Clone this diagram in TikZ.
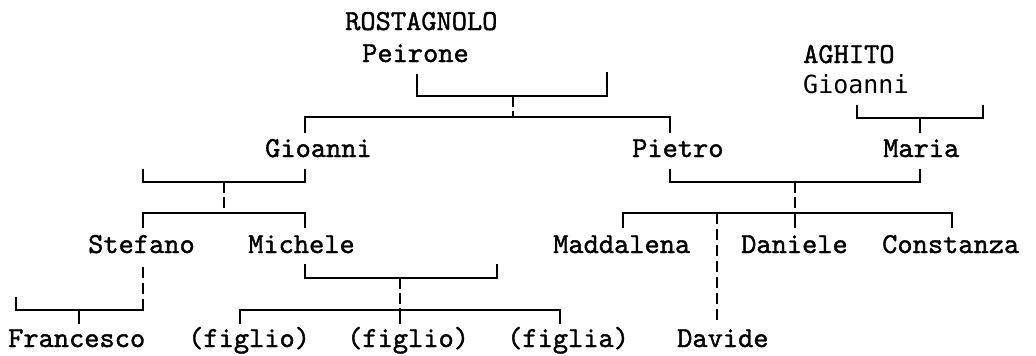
\documentclass[tikz,border=0pt]{standalone}
\usepackage{fontspec}
\newfontfamily\gothic{DejaVu Sans Mono}
\newfontfamily\heavy[AutoFakeBold=1.3]{lmmono10-regular.otf}
\begin{document}
\begin{tikzpicture}[x=1pt,y=-1pt,
  person/.style={font=\heavy\bfseries\fontsize{29}{30}\selectfont, anchor=base west, inner sep=0pt},
  link/.style={line width=1.6pt, line cap=rect},
  tick/.style={line width=1.6pt, dash pattern=on 11pt off 4pt},
  descent/.style={line width=1.6pt, dash pattern=on 11pt off 5pt}]
\useasboundingbox (0,0) rectangle (1036,356);
% people
\node[person] (rost) at (345,30) {ROSTAGNOLO};
\node[person] (peirone) at (362,62) {Peirone};
\node[person] (aghito) at (803,63) {AGHITO};
\node[person, font=\gothic\fontsize{25}{26}\selectfont] (gioA) at (803,93) {Gioanni};
\node[person] (gioanni) at (265,157) {Gioanni};
\node[person] (pietro) at (632,157) {Pietro};
\node[person] (maria) at (883,157) {Maria};
\node[person] (stefano) at (88,253) {Stefano};
\node[person] (michele) at (248,253) {Michele};
\node[person] (maddalena) at (553,253) {Maddalena};
\node[person] (daniele) at (741,253) {Daniele};
\node[person] (constanza) at (882,253) {Constanza};
\node[person] (francesco) at (8,347) {Francesco};
\node[person] (fA) at (188,347) {(figlio)};
\node[person] (fB) at (347,347) {(figlio)};
\node[person] (fC) at (507,347) {(figlia)};
\node[person] (davide) at (677,347) {Davide};
% junction coordinates
\coordinate (p1) at (417,75);  \coordinate (p2) at (607,73);
\coordinate (pj) at (513,96);  \coordinate (pc) at (513,117);
\coordinate (cG) at (305,132); \coordinate (cP) at (670,132);
\coordinate (a1) at (857,106); \coordinate (a2) at (983,106);
\coordinate (aj) at (920,118); \coordinate (aM) at (920,132);
\coordinate (g1) at (143,170); \coordinate (g2) at (305,170);
\coordinate (gj) at (224,182); \coordinate (gc) at (224,213);
\coordinate (cS) at (143,227); \coordinate (cM) at (305,227);
\coordinate (s1) at (143,267); \coordinate (s2) at (16,298);
\coordinate (sj) at (143,310); \coordinate (sF) at (79,323);
\coordinate (m1) at (305,265); \coordinate (m2) at (497,265);
\coordinate (mj) at (400,278); \coordinate (mc) at (400,310);
\coordinate (cA) at (240,323); \coordinate (cB) at (400,323); \coordinate (cC) at (560,323);
\coordinate (q1) at (670,170); \coordinate (q2) at (920,170);
\coordinate (qj) at (795,182); \coordinate (qc) at (795,213);
\coordinate (cMd) at (623,227); \coordinate (cDn) at (795,227); \coordinate (cCo) at (952,227);
\coordinate (dv) at (717,213); \coordinate (cDv) at (717,322);
% Rostagnolo Peirone
\draw[link] (p1) |- (pj) -| (p2);
\draw[tick] (pj) -- (pc);
\draw[link] (cG) |- (pc) -| (cP);
% Aghito Gioanni
\draw[link] (a1) |- (aj) -| (a2);
\draw[link] (aj) -- (aM);
% Gioanni
\draw[link] (g1) |- (gj) -| (g2);
\draw[tick] (gj) -- (gc);
\draw[link] (cS) |- (gc) -| (cM);
% Stefano
\draw[descent] (s1) -- (sj);
\draw[link] (s2) |- (sj);
\draw[link] (sF |- sj) -- (sF);
% Michele
\draw[link] (m1) |- (mj) -| (m2);
\draw[tick] (mj) -- (mc);
\draw[link] (cA) |- (mc) -| (cC);
\draw[link] (mc) -- (cB);
% Pietro and Maria
\draw[link] (q1) |- (qj) -| (q2);
\draw[tick] (qj) -- (qc);
\draw[link] (cMd) |- (qc) -| (cCo);
\draw[link] (qc) -- (cDn);
\draw[descent] (dv) -- (cDv);
\end{tikzpicture}
\end{document}
